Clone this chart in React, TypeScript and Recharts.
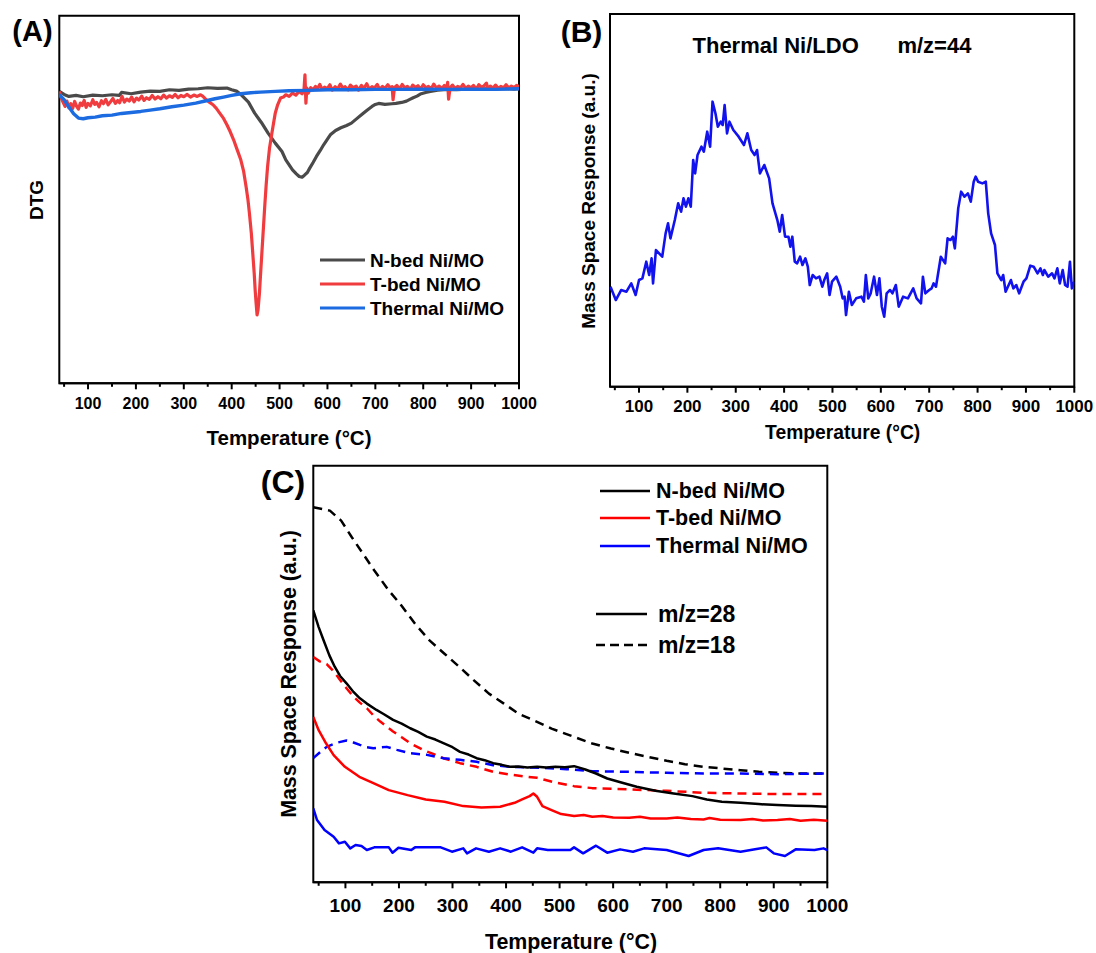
import React from 'react';
import { LineChart, Line, XAxis, YAxis, ReferenceArea } from 'recharts';

const FONT = '"Liberation Sans", Arial, Helvetica, sans-serif';

// shared temperature axis ticks (major every 100, minor every 50)
const tempTicks = [50, 100, 150, 200, 250, 300, 350, 400, 450, 500, 550, 600, 650, 700, 750, 800, 850, 900, 950, 1000];

// ---------- Panel A : DTG ----------
const aNbedT = [
  40, 50, 60, 75, 90, 110, 130, 150, 165, 170,
  190, 210, 230, 250, 270, 290, 310, 330, 350, 370,
  390, 400, 410, 420, 435, 448, 462, 476, 491, 505,
  513, 527, 535, 541, 547, 552, 558, 563, 570, 577,
  585, 592, 600, 606, 617, 628, 640, 650, 660, 671,
  682, 693, 700, 707, 720, 735, 743, 755, 765, 772,
  779, 787, 794, 805, 815, 830, 850, 870, 890, 910,
  930, 950, 970, 990, 1000,
];
const aNbedV = [
  87.5, 86.6, 86.0, 86.3, 85.9, 86.4, 86.2, 86.5, 86.3, 87.2,
  86.8, 87.3, 87.6, 87.5, 88.0, 87.8, 88.2, 88.3, 88.6, 88.4,
  88.5, 88.0, 87.6, 86.5, 84.3, 81.0, 78.2, 75.0, 72.0, 69.5,
  67.0, 64.0, 62.8, 62.0, 61.8, 62.4, 63.2, 64.5, 66.2, 68.0,
  69.8, 71.5, 73.2, 74.5, 75.8, 76.6, 77.3, 78.0, 79.2, 80.5,
  81.8, 83.0, 83.6, 83.9, 83.6, 83.8, 83.9, 84.2, 84.6, 85.1,
  85.6, 86.1, 86.7, 87.2, 87.5, 87.9, 88.1, 88.0, 88.2, 88.1,
  88.3, 88.2, 88.4, 88.2, 88.3,
];

// T-bed Ni/MO DTG as [temperature, value] pairs (noisy trace)
const aTbed: [number, number][] = [
  [40, 87.5], [44, 85.5], [48, 84.2], [52, 83.0], [56, 84.6], [60, 82.6], [64, 83.8], [68, 82.4], [72, 84.5], [76, 83.1],
  [80, 82.2], [84, 84.0], [88, 83.3], [92, 84.8], [96, 82.7], [100, 83.9], [105, 83.2], [110, 85.0], [114, 83.6], [118, 84.2],
  [123, 82.9], [128, 84.7], [132, 83.8], [137, 85.1], [142, 83.5], [147, 84.4], [152, 85.4], [157, 83.9], [162, 84.8], [166, 84.1],
  [171, 86.0], [176, 84.3], [181, 85.2], [186, 84.6], [191, 85.8], [196, 84.4], [201, 85.5], [206, 84.9], [212, 86.1], [217, 84.8],
  [222, 85.6], [228, 85.1], [234, 86.3], [240, 85.2], [246, 85.9], [252, 85.3], [258, 86.4], [264, 85.5], [270, 86.2], [276, 85.7],
  [282, 86.6], [288, 85.6], [294, 86.3], [300, 85.9], [307, 86.6], [314, 85.8], [321, 86.4], [328, 86.0], [335, 86.5], [340, 86.0],
  [347, 85.0], [354, 84.2], [361, 83.5], [368, 82.4], [375, 81.0], [383, 79.4], [390, 77.5], [397, 75.4], [404, 73.0], [411, 70.2],
  [419, 67.0], [425, 63.5], [430, 59.0], [434, 55.0], [437, 51.0], [441, 45.0], [444, 39.0], [447, 33.0], [449, 28.0], [451, 24.0],
  [453, 20.5], [455, 22.0], [458, 27.0], [460, 32.0], [463, 39.0], [466, 46.0], [469, 53.0], [472, 59.5], [475, 65.0], [479, 70.5],
  [484, 75.0], [488, 78.5], [491, 81.0], [496, 83.5], [502, 85.5], [508, 85.8], [513, 86.5], [520, 86.0], [527, 87.0], [534, 86.4],
  [541, 87.5], [547, 86.8], [551, 88.0], [553, 92.5], [555, 84.0], [557, 88.5], [560, 87.0], [565, 88.6], [570, 88.0], [575, 89.0],
  [579, 88.3], [584, 89.6], [589, 88.1], [594, 88.8], [600, 88.4], [605, 89.5], [610, 87.9], [616, 88.9], [621, 88.2], [627, 89.7],
  [632, 88.5], [637, 88.9], [643, 88.0], [648, 89.4], [654, 88.6], [660, 89.1], [665, 87.9], [671, 89.3], [676, 88.4], [682, 89.8],
  [687, 88.2], [693, 88.9], [698, 88.5], [704, 89.6], [709, 88.1], [715, 89.0], [720, 88.4], [726, 89.5], [731, 88.6], [735, 88.9],
  [737, 85.0], [740, 88.7], [745, 89.3], [751, 88.2], [756, 89.6], [762, 88.5], [767, 89.0], [773, 88.1], [778, 89.4], [784, 88.7],
  [789, 89.2], [795, 88.2], [800, 89.5], [806, 88.6], [811, 89.0], [817, 88.3], [822, 89.7], [828, 88.5], [833, 89.1], [839, 88.4],
  [844, 89.3], [849, 88.6], [851, 90.2], [853, 85.2], [856, 88.5], [861, 89.4], [867, 88.3], [872, 89.0], [878, 88.6], [883, 89.6],
  [889, 88.4], [894, 89.1], [900, 88.6], [905, 89.3], [911, 88.2], [916, 89.5], [922, 88.7], [927, 89.2], [932, 90.0], [935, 88.3],
  [940, 89.1], [946, 88.5], [951, 89.4], [957, 88.4], [962, 89.0], [968, 88.6], [973, 89.5], [979, 88.5], [984, 89.1], [990, 88.6],
  [995, 89.3], [1000, 89.0],
];

const aThermT = [
  40, 50, 60, 70, 80, 90, 100, 115, 130, 150,
  170, 190, 210, 230, 250, 275, 300, 325, 347, 365,
  383, 400, 419, 440, 460, 491, 520, 563, 600, 650,
  700, 750, 800, 850, 900, 950, 1000,
];
const aThermV = [
  86.5, 85.0, 82.8, 80.8, 79.5, 79.3, 79.6, 79.8, 80.2, 80.4,
  80.9, 81.2, 81.5, 81.9, 82.3, 82.9, 83.4, 84.0, 84.7, 85.3,
  85.8, 86.3, 86.8, 87.1, 87.3, 87.5, 87.7, 87.8, 88.0, 88.0,
  88.1, 88.1, 88.2, 88.1, 88.2, 88.1, 88.3,
];

// ---------- Panel B : Thermal Ni/LDO m/z=44 ----------
const bT = [
  41, 52, 63, 74, 84, 93, 100, 107, 115, 121,
  126, 129, 135, 148, 155, 160, 165, 174, 181, 187,
  192, 197, 202, 207, 212, 216, 221, 229, 234, 241,
  247, 252, 258, 263, 269, 273, 277, 282, 287, 295,
  306, 317, 324, 332, 339, 344, 350, 359, 369, 376,
  386, 391, 396, 402, 409, 413, 417, 422, 427, 433,
  438, 444, 449, 453, 459, 466, 473, 479, 483, 489,
  494, 499, 508, 516, 521, 525, 528, 534, 540, 549,
  560, 565, 569, 574, 579, 586, 592, 597, 602, 607,
  612, 619, 624, 631, 637, 646, 656, 667, 674, 683,
  687, 692, 700, 705, 709, 714, 724, 733, 738, 744,
  749, 753, 760, 766, 773, 780, 786, 792, 796, 801,
  810, 817, 822, 828, 836, 841, 849, 853, 858, 869,
  874, 880, 886, 895, 901, 909, 916, 924, 930, 935,
  938, 946, 954, 959, 965, 970, 976, 981, 986, 991,
  995, 1000,
];
const bV = [
  30.0, 26.0, 29.0, 28.5, 31.0, 27.5, 32.0, 32.5, 37.5, 33.5,
  38.5, 31.0, 41.0, 39.0, 46.0, 49.0, 44.5, 50.0, 55.0, 52.5,
  56.5, 54.0, 56.5, 54.0, 68.0, 64.0, 69.5, 72.0, 70.5, 76.5,
  72.0, 85.5, 82.0, 78.0, 79.5, 78.5, 84.5, 76.0, 79.5, 77.0,
  75.0, 72.5, 76.0, 71.0, 69.5, 71.0, 64.0, 66.5, 62.5, 55.0,
  50.0, 46.5, 51.5, 45.0, 45.0, 42.0, 45.0, 37.5, 37.0, 39.0,
  36.5, 38.5, 36.0, 30.5, 33.5, 32.5, 33.0, 30.0, 32.0, 34.0,
  27.5, 31.5, 33.0, 30.0, 26.5, 27.0, 21.5, 28.5, 24.5, 26.5,
  27.0, 25.5, 33.5, 26.5, 28.0, 33.0, 27.5, 32.5, 24.0, 21.0,
  28.0, 29.0, 28.0, 30.5, 24.0, 27.0, 26.5, 29.5, 26.5, 25.0,
  33.0, 28.0, 29.0, 29.5, 31.0, 30.0, 39.0, 37.0, 44.5, 44.0,
  45.0, 41.5, 53.5, 58.5, 57.0, 58.0, 55.5, 61.5, 63.0, 61.5,
  61.0, 61.5, 52.0, 46.0, 42.5, 34.0, 32.0, 33.5, 28.5, 32.0,
  29.5, 30.5, 28.0, 31.5, 32.5, 36.3, 36.0, 34.0, 35.5, 33.5,
  35.0, 33.0, 34.0, 32.5, 35.5, 31.0, 35.0, 30.5, 30.0, 37.5,
  29.5, 31.5,
];

// ---------- Panel C : m/z = 28 (solid) and m/z = 18 (dashed) ----------
const cNbed28T = [
  40, 50, 59, 70, 80, 90, 102, 115, 127, 140,
  158, 172, 189, 205, 221, 236, 252, 268, 283, 300,
  314, 330, 345, 360, 376, 392, 407, 423, 440, 458,
  475, 492, 510, 527, 548, 568, 589, 617, 644, 679,
  713, 748, 775, 803, 838, 872, 907, 941, 970, 1000,
];
const cNbed28V = [
  81.7, 76.7, 72.8, 68.2, 64.8, 62.0, 59.8, 57.2, 55.3, 53.7,
  51.8, 50.5, 48.8, 47.7, 46.3, 45.2, 43.8, 42.9, 41.8, 40.6,
  39.2, 38.4, 37.3, 36.7, 35.8, 35.3, 34.7, 34.8, 34.5, 34.7,
  34.5, 34.7, 34.6, 34.9, 33.9, 32.7, 31.2, 29.9, 28.7, 27.5,
  26.7, 25.9, 24.9, 24.2, 23.9, 23.5, 23.2, 23.0, 22.9, 22.7,
];

const cTbed28T = [
  40, 50, 64, 78, 99, 126, 147, 181, 216, 250,
  285, 320, 354, 389, 416, 430, 444, 451, 458, 468,
  485, 503, 527, 545, 561, 580, 600, 630, 650, 670,
  700, 720, 745, 769, 780, 800, 838, 860, 880, 907,
  930, 950, 975, 1000,
];
const cTbed28V = [
  49.7, 45.7, 41.7, 38.2, 34.7, 31.7, 30.2, 27.7, 26.2, 24.9,
  24.2, 22.9, 22.5, 22.7, 23.9, 24.9, 25.9, 26.7, 25.7, 22.9,
  21.7, 20.5, 19.9, 20.2, 19.7, 19.9, 19.5, 19.4, 19.7, 19.2,
  19.2, 19.5, 19.0, 18.9, 19.3, 18.8, 18.7, 19.0, 18.6, 18.7,
  19.0, 18.5, 18.8, 18.5,
];

const cTherm28T = [
  40, 47, 61, 78, 88, 99, 109, 119, 130, 140,
  154, 181, 188, 199, 223, 230, 278, 299, 320, 327,
  344, 368, 389, 409, 430, 451, 458, 478, 520, 527,
  544, 568, 589, 613, 637, 658, 700, 741, 769, 796,
  838, 865, 886, 900, 921, 941, 976, 993, 1000,
];
const cTherm28V = [
  22.2, 18.7, 15.7, 13.7, 11.7, 12.2, 10.2, 11.2, 10.9, 9.7,
  10.5, 10.5, 8.9, 10.4, 9.7, 10.5, 10.5, 9.2, 10.2, 8.7,
  10.2, 9.2, 10.2, 9.2, 10.5, 8.9, 10.2, 9.7, 9.7, 10.5,
  8.7, 11.0, 8.9, 9.9, 9.2, 10.2, 9.7, 7.9, 9.7, 10.2,
  9.2, 9.9, 10.5, 8.7, 7.9, 9.9, 9.7, 10.2, 9.7,
];

const cNbed18T = [
  40, 71, 92, 112, 133, 154, 181, 202, 230, 257,
  285, 313, 340, 368, 396, 423, 451, 485, 527, 561,
  596, 630, 665, 700, 734, 769, 803, 838, 872, 907,
  941, 1000,
];
const cNbed18V = [
  112.7, 111.7, 108.7, 103.7, 98.7, 93.7, 87.7, 83.7, 77.7, 72.7,
  68.7, 64.7, 60.7, 56.7, 53.7, 50.7, 48.7, 46.2, 43.7, 41.7,
  40.2, 38.9, 37.7, 36.5, 35.5, 34.7, 34.2, 33.7, 33.2, 32.9,
  32.7, 32.7,
];

const cTbed18T = [
  40, 52, 65, 78, 90, 102, 115, 127, 140, 152,
  165, 177, 189, 205, 221, 245, 265, 283, 314, 345,
  376, 407, 439, 458, 472, 492, 527, 561, 630, 700,
  769, 838, 907, 1000,
];
const cTbed18V = [
  67.7, 66.4, 65.6, 63.4, 60.8, 58.3, 55.8, 54.0, 52.3, 50.2,
  48.3, 46.8, 45.3, 43.6, 41.8, 39.8, 38.5, 37.3, 35.8, 34.7,
  33.2, 32.4, 31.7, 31.4, 30.8, 30.0, 28.9, 28.3, 27.9, 27.5,
  26.9, 26.7, 26.5, 26.5,
];

const cTherm18T = [
  40, 52, 65, 85, 102, 115, 127, 140, 152, 165,
  177, 196, 221, 252, 283, 314, 345, 376, 407, 440,
  470, 513, 561, 630, 700, 769, 838, 907, 1000,
];
const cTherm18V = [
  37.3, 39.0, 40.7, 42.0, 42.6, 42.0, 41.3, 40.6, 40.3, 40.5,
  40.7, 39.8, 38.8, 38.3, 37.3, 36.8, 36.2, 35.2, 34.7, 34.5,
  34.4, 34.0, 33.4, 33.2, 32.9, 32.7, 32.7, 32.5, 32.7,
];

const seriesNames = ['N-bed Ni/MO', 'T-bed Ni/MO', 'Thermal Ni/MO'];
const mzNames = ['m/z=28', 'm/z=18'];

const zip = (ts: number[], vs: number[]) => ts.map((t, i) => ({ t, v: vs[i] }));
const fromPairs = (ps: [number, number][]) => ps.map(([t, v]) => ({ t, v }));

type Series = { key: string; data: { t: number; v: number }[]; color: string; w: number; dash?: string };

const TempTick = (props: any) => {
  const { x, y, payload, fs, off } = props;
  const v = payload.value;
  const major = v % 100 === 0;
  return (
    <g>
      <line x1={x} x2={x} y1={y} y2={y + (major ? 6 : 3.5)} stroke="#000" strokeWidth={2} />
      {major ? (
        <text x={x} y={y + off} textAnchor="middle" dominantBaseline="central" fontFamily={FONT} fontWeight="bold" fontSize={fs} fill="#000">
          {v}
        </text>
      ) : null}
    </g>
  );
};

function Panel(props: {
  width: number; height: number;
  margin: { top: number; left: number; right: number; bottom: number };
  ymax: number; series: Series[]; fs: number; off: number;
}) {
  const { width, height, margin, ymax, series, fs, off } = props;
  return (
    <LineChart width={width} height={height} margin={margin}>
      <XAxis
        type="number"
        dataKey="t"
        domain={[40, 1000]}
        ticks={tempTicks}
        interval={0}
        allowDataOverflow
        tickLine={false}
        tickSize={0}
        tickMargin={0}
        height={40}
        axisLine={{ stroke: '#000', strokeWidth: 2 }}
        tick={(p: any) => <TempTick {...p} fs={fs} off={off} />}
      />
      <YAxis type="number" domain={[0, ymax]} hide allowDataOverflow />
      <ReferenceArea x1={40} x2={1000} y1={0} y2={ymax} fill="none" fillOpacity={0} stroke="#000" strokeWidth={2} ifOverflow="visible" />
      {series.map((s) => (
        <Line
          key={s.key}
          data={s.data}
          dataKey="v"
          type="linear"
          dot={false}
          activeDot={false}
          stroke={s.color}
          strokeWidth={s.w}
          strokeDasharray={s.dash}
          strokeLinejoin="round"
          isAnimationActive={false}
        />
      ))}
    </LineChart>
  );
}

const A_COLORS = ['#4a4a4a', '#f03c3f', '#1c6be0'];
const C_COLORS = ['#000000', '#ff0000', '#0000ff'];

const seriesA: Series[] = [
  { key: 'a1', data: zip(aNbedT, aNbedV), color: A_COLORS[0], w: 3.2 },
  { key: 'a2', data: fromPairs(aTbed), color: A_COLORS[1], w: 3.2 },
  { key: 'a3', data: zip(aThermT, aThermV), color: A_COLORS[2], w: 3.4 },
];
const seriesB: Series[] = [{ key: 'b1', data: zip(bT, bV), color: '#1212ee', w: 2.6 }];
const DASH = '9 6';
const seriesC: Series[] = [
  { key: 'c4', data: zip(cNbed18T, cNbed18V), color: C_COLORS[0], w: 2.5, dash: DASH },
  { key: 'c5', data: zip(cTbed18T, cTbed18V), color: C_COLORS[1], w: 2.5, dash: DASH },
  { key: 'c6', data: zip(cTherm18T, cTherm18V), color: C_COLORS[2], w: 2.5, dash: DASH },
  { key: 'c1', data: zip(cNbed28T, cNbed28V), color: C_COLORS[0], w: 2.5 },
  { key: 'c2', data: zip(cTbed28T, cTbed28V), color: C_COLORS[1], w: 2.5 },
  { key: 'c3', data: zip(cTherm28T, cTherm28V), color: C_COLORS[2], w: 2.5 },
];

const txt = (x: number, y: number, s: string, fs: number, anchor: 'start' | 'middle' | 'end' = 'middle', rotate = false) => (
  <text
    key={`${s}-${x}-${y}`}
    x={x}
    y={y}
    textAnchor={anchor}
    dominantBaseline="central"
    fontFamily={FONT}
    fontWeight="bold"
    fontSize={fs}
    fill="#000"
    transform={rotate ? `rotate(-90 ${x} ${y})` : undefined}
  >
    {s}
  </text>
);

export default function App() {
  return (
    <div style={{ position: 'absolute', left: 0, top: 0, width: 1096, height: 953, background: '#fff', overflow: 'hidden' }}>
      <div style={{ position: 'absolute', left: 0, top: 0 }}>
        <Panel width={540} height={460} margin={{ top: 15.7, left: 59.3, right: 21, bottom: 36.7 }} ymax={110.2} series={seriesA} fs={16} off={20} />
      </div>
      <div style={{ position: 'absolute', left: 540, top: 0 }}>
        <Panel width={556} height={460} margin={{ top: 14, left: 70, right: 21.7, bottom: 33.3 }} ymax={111.8} series={seriesB} fs={17} off={20} />
      </div>
      <div style={{ position: 'absolute', left: 250, top: 450 }}>
        <Panel width={600} height={503} margin={{ top: 15.7, left: 63.3, right: 22.7, bottom: 30.7 }} ymax={125.2} series={seriesC} fs={19} off={23} />
      </div>
      <svg width={1096} height={953} style={{ position: 'absolute', left: 0, top: 0, pointerEvents: 'none' }}>
        {/* Panel A texts */}
        {txt(32.5, 31, '(A)', 29)}
        {txt(36, 200, 'DTG', 19, 'middle', true)}
        {txt(289, 437, 'Temperature (°C)', 20.5)}
        {[260, 284, 308].map((y, i) => (
          <g key={`la${i}`}>
            <line x1={320} x2={365} y1={y} y2={y} stroke={A_COLORS[i]} strokeWidth={3} />
            {txt(370, y, seriesNames[i], 19, 'start')}
          </g>
        ))}
        {/* Panel B texts */}
        {txt(581.5, 31, '(B)', 30)}
        {txt(588, 201, 'Mass Space Response (a.u.)', 19, 'middle', true)}
        {txt(692.5, 45, 'Thermal Ni/LDO', 22, 'start')}
        {txt(897.4, 45, 'm/z=44', 22, 'start')}
        {txt(842.7, 432, 'Temperature (°C)', 19.3)}
        {/* Panel C texts */}
        {txt(283, 482, '(C)', 32)}
        {txt(289, 674, 'Mass Space Response (a.u.)', 21.4, 'middle', true)}
        {txt(571, 942, 'Temperature (°C)', 21.4)}
        {[491, 518, 546].map((y, i) => (
          <g key={`lc${i}`}>
            <line x1={600} x2={650} y1={y} y2={y} stroke={C_COLORS[i]} strokeWidth={2.6} />
            {txt(656, y, seriesNames[i], 21.5, 'start')}
          </g>
        ))}
        {[614, 645].map((y, i) => (
          <g key={`lm${i}`}>
            <line x1={596} x2={647} y1={y} y2={y} stroke="#000" strokeWidth={2.6} strokeDasharray={i === 1 ? '9 5' : undefined} />
            {txt(658, y, mzNames[i], 23, 'start')}
          </g>
        ))}
      </svg>
    </div>
  );
}
